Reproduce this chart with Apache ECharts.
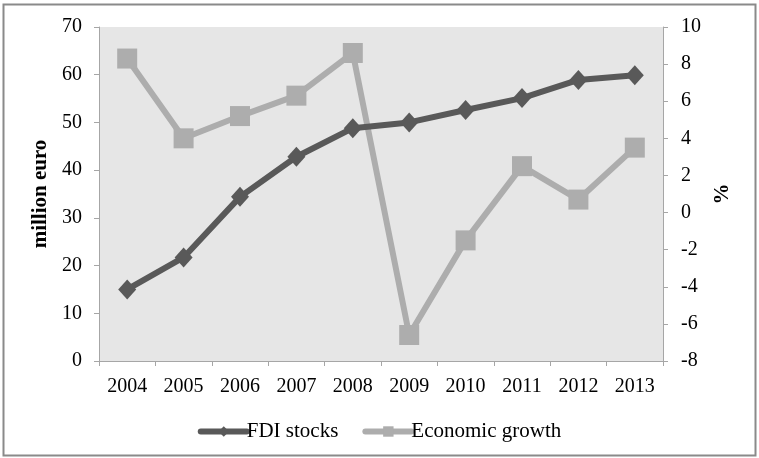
<!DOCTYPE html>
<html>
<head>
<meta charset="utf-8">
<script src="https://cdn.jsdelivr.net/npm/echarts@6/dist/echarts.min.js"></script>
<style>
  html, body { margin: 0; padding: 0; background: #fff; }
  #chart { width: 759px; height: 458px; }
</style>
</head>
<body>
<div id="chart"></div>
<script>
// Years on the category axis
const years = ['2004', '2005', '2006', '2007', '2008', '2009', '2010', '2011', '2012', '2013'];
// FDI stocks, million euro (left axis)
const fdiStocks = [15.0, 21.7, 34.4, 42.8, 48.8, 50.0, 52.6, 55.1, 58.9, 59.9];
// Economic growth, % (right axis)
const economicGrowth = [8.3, 4.0, 5.2, 6.3, 8.6, -6.6, -1.5, 2.5, 0.7, 3.5];

const FONT = 'Liberation Serif';
const DARK = '#595959';
const LIGHT = '#adadad';
const AXIS = '#a6a6a6';

const chart = echarts.init(document.getElementById('chart'), null, { renderer: 'canvas' });

chart.setOption({
  animation: false,
  backgroundColor: '#ffffff',
  textStyle: { fontFamily: FONT, color: '#000' },
  grid: {
    left: 99, right: 96, top: 27, bottom: 97,
    show: true, backgroundColor: '#e6e6e6', borderWidth: 0
  },
  graphic: [{
    type: 'rect',
    shape: { x: 3.5, y: 4.5, width: 752, height: 451 },
    style: { fill: 'none', stroke: '#8a8a8a', lineWidth: 2 },
    silent: true, z: -1
  }],
  legend: {
    top: 416,
    left: 'center',
    itemWidth: 46,
    itemHeight: 13,
    itemGap: 24,
    lineStyle: { width: 6, cap: 'round' },
    textStyle: { fontFamily: FONT, fontSize: 21, color: '#000', padding: [0, 0, 0, -5] },
    data: ['FDI stocks', 'Economic growth']
  },
  xAxis: {
    type: 'category',
    data: years,
    boundaryGap: true,
    axisLine: { lineStyle: { color: AXIS, width: 1 } },
    axisTick: { show: true, length: 5, inside: false, lineStyle: { color: AXIS } },
    axisLabel: { fontFamily: FONT, fontSize: 20, color: '#000', margin: 16 },
    splitLine: { show: false }
  },
  yAxis: [{
    type: 'value',
    position: 'left',
    min: 0, max: 70, interval: 10,
    name: 'million euro',
    nameLocation: 'middle',
    nameRotate: 90,
    nameGap: 45,
    nameTextStyle: { fontFamily: FONT, fontSize: 21, fontWeight: 'bold', color: '#000' },
    axisLine: { show: true, lineStyle: { color: AXIS, width: 1 } },
    axisTick: { show: true, length: 5, lineStyle: { color: AXIS } },
    axisLabel: { fontFamily: FONT, fontSize: 20, color: '#000', margin: 17 },
    splitLine: { show: false }
  }, {
    type: 'value',
    position: 'right',
    min: -8, max: 10, interval: 2,
    name: '%',
    nameLocation: 'middle',
    nameRotate: 90,
    nameGap: 47,
    nameTextStyle: { fontFamily: FONT, fontSize: 21, fontWeight: 'bold', color: '#000' },
    axisLine: { show: true, lineStyle: { color: AXIS, width: 1 } },
    axisTick: { show: true, length: 5, lineStyle: { color: AXIS } },
    axisLabel: { fontFamily: FONT, fontSize: 20, color: '#000', margin: 18 },
    splitLine: { show: false }
  }],
  series: [{
    name: 'FDI stocks',
    type: 'line',
    yAxisIndex: 0,
    data: fdiStocks,
    symbol: 'diamond',
    symbolSize: [18, 20],
    lineStyle: { color: DARK, width: 6, cap: 'round', join: 'round' },
    itemStyle: { color: DARK },
    z: 3
  }, {
    name: 'Economic growth',
    type: 'line',
    yAxisIndex: 1,
    data: economicGrowth,
    symbol: 'rect',
    symbolSize: 20,
    lineStyle: { color: LIGHT, width: 6, cap: 'round', join: 'round' },
    itemStyle: { color: LIGHT },
    z: 2
  }]
});
</script>
</body>
</html>
